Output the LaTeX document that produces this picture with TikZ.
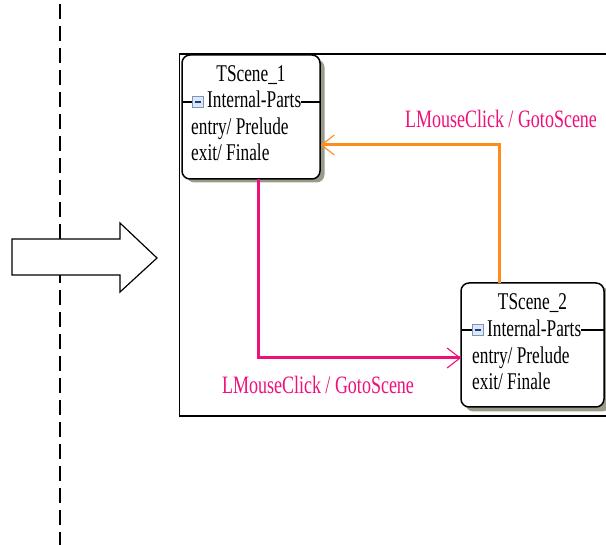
\documentclass[tikz,border=0pt]{standalone}
\usepackage{fontspec}
\setmainfont{Liberation Serif}
\newfontfamily\narrowserif[FakeStretch=0.72]{Liberation Serif}
\usetikzlibrary{arrows.meta}

\definecolor{trpink}{HTML}{F0107A}
\definecolor{lblpink}{HTML}{F0107A}
\definecolor{trorange}{HTML}{FF8C1A}
\definecolor{shadowgrey}{HTML}{9C9B8A}
\definecolor{iconfill}{HTML}{DCE8F8}
\definecolor{iconedge}{HTML}{7C95B8}
\definecolor{iconbar}{HTML}{1E3C8C}

\tikzset{
  statebox/.style={draw=black, line width=1.5pt, rounded corners=8pt, fill=white,
    minimum width=#1, minimum height=124pt, inner sep=0pt, outer sep=0pt},
  stateshadow/.style={fill=shadowgrey, rounded corners=8pt},
  boxtext/.style={anchor=base, inner sep=0pt, font=\narrowserif\fontsize{24}{28}\selectfont},
  lbltext/.style={anchor=base, inner sep=0pt, text=lblpink, font=\narrowserif\fontsize{25}{29}\selectfont},
  minusicon/.style={draw=iconedge, fill=iconfill, line width=0.9pt, minimum size=11pt, inner sep=0pt},
  transition/.style={line width=3pt, line cap=butt,
    -{Straight Barb[length=13pt, width=20pt, line width=1.1pt]}},
  divider/.style={line width=1.1pt},
}

\begin{document}
\begin{tikzpicture}[x=1pt, y=-1pt]
  \clip (0,0) rectangle (606,545);
  \fill[white] (0,0) rectangle (606,545);

  % dashed separator
  \draw[line width=2pt, dash pattern=on 15pt off 7pt] (60,4) -- (60,545);

  % hollow block arrow
  \draw[line width=1.2pt, fill=white, line join=miter]
    (12,239) -- (120,239) -- (120,223) -- (157,258) -- (120,292) -- (120,275) -- (12,275) -- cycle;
  \coordinate (blockarrow) at (84,258);

  % diagram frame
  \draw[line width=1.2pt] (620,54) -- (179.5,54) -- (179.5,416) -- (620,416);
  \coordinate (frame) at (179.5,54);

  % ---------- TScene_1 ----------
  \fill[stateshadow] (186.5,59.5) rectangle (324.5,182.5);
  \node[statebox=138pt, anchor=north west] (s1) at (182,55) {};
  \node[boxtext] (s1name) at (251,82) {TScene\_1};
  \node[minusicon] (s1icon) at (198,102) {};
  \draw[iconbar, line width=1.5pt] (s1icon.west) ++(2.5pt,0) -- ++(6pt,0);
  \node[boxtext, anchor=base west] (s1parts) at (207,108) {Internal-Parts};
  \draw[divider] (s1.west |- s1icon) -- (s1icon.west);
  \draw[divider] (s1parts.east |- s1icon) -- (s1.east |- s1icon);
  \node[boxtext, anchor=base west] (s1entry) at (191,135) {entry/ Prelude};
  \node[boxtext, anchor=base west] (s1exit) at (191,161) {exit/ Finale};

  % ---------- TScene_2 ----------
  \fill[stateshadow] (465.5,287.5) rectangle (610,411.5);
  \node[statebox=143pt, anchor=north west] (s2) at (461,283) {};
  \node[boxtext] (s2name) at (532.5,310) {TScene\_2};
  \node[minusicon] (s2icon) at (478,330) {};
  \draw[iconbar, line width=1.5pt] (s2icon.west) ++(2.5pt,0) -- ++(6pt,0);
  \node[boxtext, anchor=base west] (s2parts) at (487,337) {Internal-Parts};
  \draw[divider] (s2.west |- s2icon) -- (s2icon.west);
  \draw[divider] (s2parts.east |- s2icon) -- (s2.east |- s2icon);
  \node[boxtext, anchor=base west] (s2entry) at (472,364) {entry/ Prelude};
  \node[boxtext, anchor=base west] (s2exit) at (472,390) {exit/ Finale};

  % ---------- transitions ----------
  \coordinate (s1out) at (258,179);
  \coordinate (s2in) at (461,358);
  \coordinate (s2out) at (499,283);
  \coordinate (s1in) at (320.5,145);
  \draw[transition, trpink] (s1out) |- (s2in);
  \draw[transition, trorange] (s2out) |- (s1in);

  \node[lbltext] (lbl1) at (501,128) {LMouseClick / GotoScene};
  \node[lbltext] (lbl2) at (318,394) {LMouseClick / GotoScene};
\end{tikzpicture}
\end{document}
